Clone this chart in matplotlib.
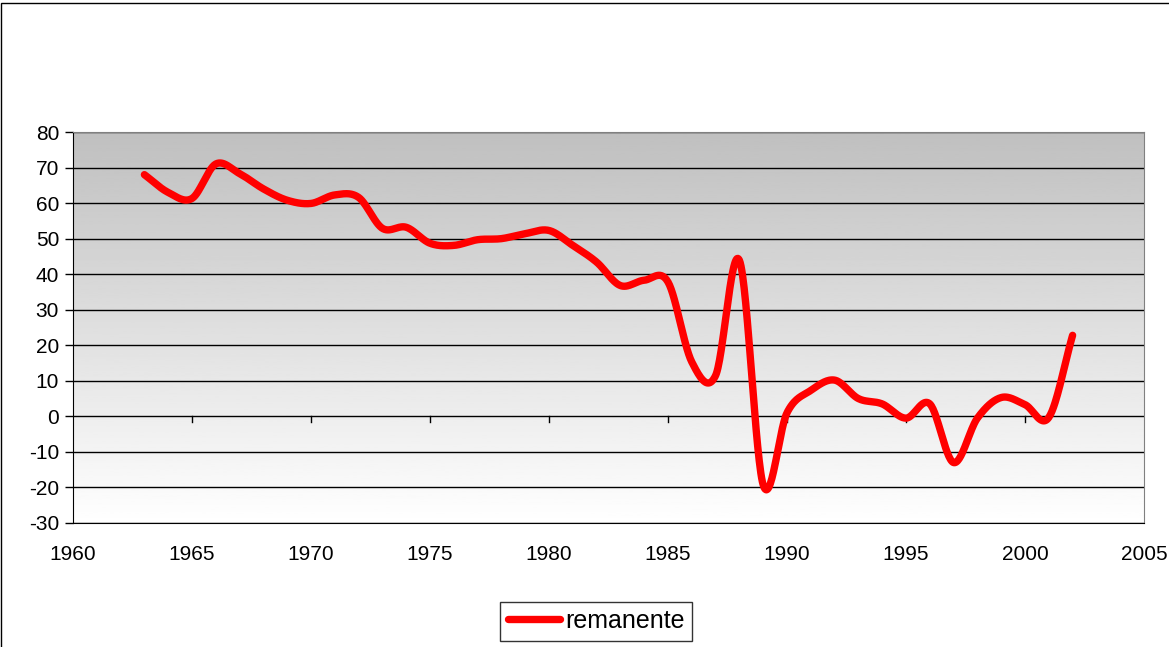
import numpy as np
import matplotlib
matplotlib.use("Agg")
import matplotlib.pyplot as plt
from matplotlib.patches import Rectangle

# Datos
years = list(range(1963, 2003))
remanente = [68, 63, 61.3, 71, 68.3, 64, 60.8, 59.9, 62.3, 61.6,
             52.9, 53.2, 48.7, 48.1, 49.7, 50, 51.4, 52.3, 48.1, 43.4,
             36.8, 38.3, 37.8, 15.3, 11.5, 43.9, -19.3, 1, 7.3, 10.2,
             5, 3.5, -0.5, 3.5, -13, -0.5, 5.3, 3.3, -0.3, 22.8]

y_ticks = list(range(-30, 81, 10))
x_ticks = list(range(1960, 2006, 5))


# Suavizado tipo Excel (Catmull-Rom)
def smooth(x, y, n=30):
    x = np.asarray(x, float)
    y = np.asarray(y, float)
    px = np.concatenate([[2 * x[0] - x[1]], x, [2 * x[-1] - x[-2]]])
    py = np.concatenate([[2 * y[0] - y[1]], y, [2 * y[-1] - y[-2]]])
    xs, ys = [], []
    t = np.linspace(0, 1, n, endpoint=False)
    for i in range(1, len(px) - 2):
        for p, out in ((px, xs), (py, ys)):
            p0, p1, p2, p3 = p[i - 1], p[i], p[i + 1], p[i + 2]
            out.extend(0.5 * ((2 * p1) + (-p0 + p2) * t
                              + (2 * p0 - 5 * p1 + 4 * p2 - p3) * t ** 2
                              + (-p0 + 3 * p1 - 3 * p2 + p3) * t ** 3))
    xs.append(x[-1])
    ys.append(y[-1])
    return np.array(xs), np.array(ys)


plt.rcParams['font.family'] = ['Liberation Sans', 'DejaVu Sans']
plt.rcParams['axes.unicode_minus'] = False

fig = plt.figure(figsize=(11.69, 6.47), dpi=100)
fig.patches.append(Rectangle((1 / 1169, -0.1), 1.2, 1.1 - 3 / 647, transform=fig.transFigure,
                             fill=False, edgecolor='black', linewidth=1))

ax = fig.add_axes([73 / 1169, 1 - 523 / 647, (1144 - 73) / 1169, (523 - 132) / 647])

# fondo degradado (gris arriba, blanco abajo)
grad = np.linspace(0.75, 1.0, 256).reshape(-1, 1)
ax.imshow(grad, cmap='gray', vmin=0, vmax=1, aspect='auto', origin='upper',
          extent=[1960, 2005, -30, 80], zorder=0)
ax.set_xlim(1960, 2005)
ax.set_ylim(-30, 80)

for yv in y_ticks:
    ax.axhline(yv, color='black', linewidth=1, zorder=1)

# marcas del eje x sobre la línea de 0
for xv in x_ticks[1:-1]:
    ax.plot([xv, xv], [0, -1.6], color='black', linewidth=1, zorder=1, clip_on=False)

sx, sy = smooth(years, remanente)
ax.plot(sx, sy, color='#ff0000', linewidth=5.3, solid_capstyle='round', label='remanente', zorder=3)

ax.set_yticks(y_ticks)
ax.set_xticks(x_ticks)
ax.tick_params(axis='y', direction='out', length=6, width=1, labelsize=15, pad=4)
ax.tick_params(axis='x', length=0, labelsize=15, pad=16)

for s in ['left', 'bottom']:
    ax.spines[s].set_color('black')
for s in ['top', 'right']:
    ax.spines[s].set_color('#808080')

leg = fig.legend(loc='center', bbox_to_anchor=(596 / 1169, 1 - 621 / 647), fontsize=18,
                 frameon=True, fancybox=False, edgecolor='black', handlelength=2.1,
                 handletextpad=0.2, borderpad=0.3)
leg.get_frame().set_linewidth(1)

fig.savefig('out.png', dpi=100)
